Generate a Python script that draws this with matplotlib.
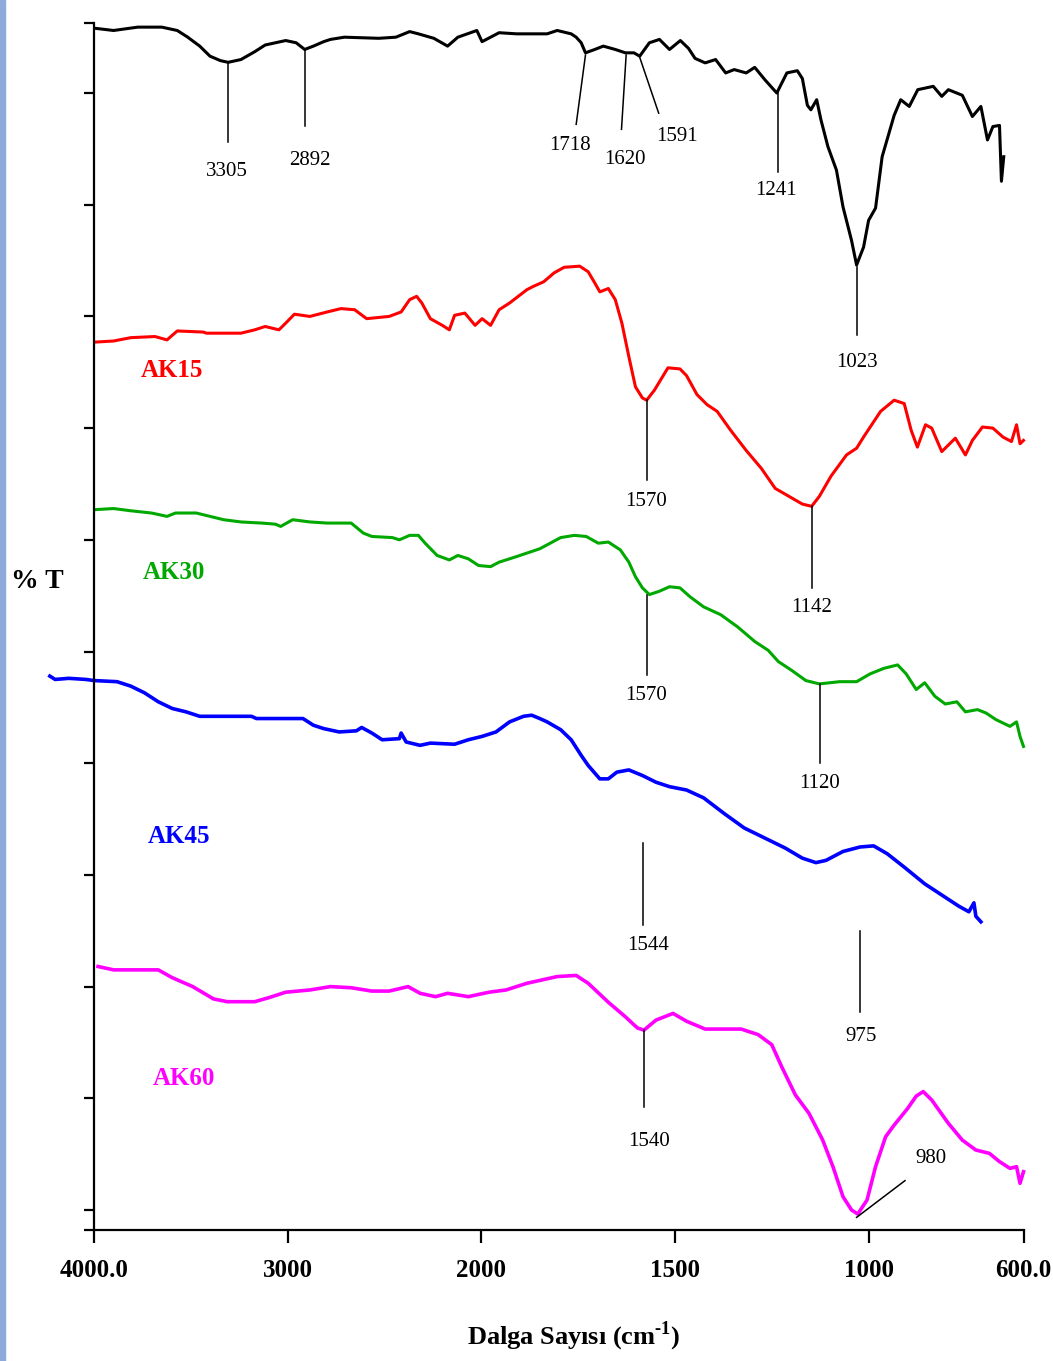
import numpy as np
import matplotlib.pyplot as plt
from matplotlib.patches import Rectangle

plt.rcParams['font.family'] = ['Liberation Serif', 'DejaVu Serif']
plt.rcParams['mathtext.fontset'] = 'custom'
plt.rcParams['mathtext.rm'] = 'Liberation Serif'
plt.rcParams['mathtext.bf'] = 'Liberation Serif:bold'

# spectra (wavenumber cm-1, offset %T)
wn_black = [3996, 3899, 3774, 3650, 3570, 3516, 3454, 3401, 3347, 3307, 3241, 3170, 3116, 3063,
            3010, 2956, 2912, 2867, 2814, 2779, 2707, 2530, 2441, 2370, 2325, 2245, 2174, 2121,
            2023, 1998, 1954, 1909, 1870, 1830, 1804, 1768, 1755, 1742, 1731, 1707, 1685, 1654,
            1628, 1606, 1591, 1566, 1540, 1514, 1486, 1465, 1448, 1422, 1395, 1369, 1347, 1316,
            1294, 1268, 1237, 1211, 1184, 1171, 1158, 1149, 1134, 1123, 1105, 1083, 1066, 1044,
            1031, 1013, 1000, 982, 965, 934, 917, 895, 873, 833, 811, 794, 758, 732, 710, 693,
            679, 662, 657, 651]
t_black = [105.8, 105.6, 105.9, 105.9, 105.6, 105.0, 104.2, 103.3, 102.9, 102.75, 103.0, 103.7,
           104.3, 104.5, 104.7, 104.5, 103.9, 104.2, 104.6, 104.8, 105.0, 104.9, 105.0, 105.5,
           105.3, 104.9, 104.2, 105.0, 105.6, 104.6, 105.4, 105.3, 105.3, 105.3, 105.6, 105.3,
           105.0, 104.5, 103.6, 103.9, 104.2, 103.9, 103.6, 103.6, 103.3, 104.5, 104.8, 103.9,
           104.7, 104.0, 103.1, 102.7, 103.0, 101.8, 102.1, 101.8, 102.3, 101.2, 100.0, 101.8,
           102.0, 101.3, 98.9, 98.5, 99.4, 97.6, 95.2, 93.1, 89.8, 86.8, 84.6, 86.2, 88.6, 89.7,
           94.3, 98.0, 99.4, 98.8, 100.3, 100.6, 99.7, 100.3, 99.8, 97.9, 98.8, 95.8, 97.0, 97.1,
           92.1, 94.3]

wn_ak15 = [3996, 3899, 3810, 3685, 3623, 3570, 3436, 3419, 3241, 3170, 3116, 3045, 3010, 2965,
           2885, 2796, 2725, 2654, 2592, 2476, 2414, 2370, 2334, 2307, 2263, 2201, 2165, 2138,
           2085, 2032, 1998, 1976, 1954, 1927, 1882, 1865, 1839, 1812, 1786, 1746, 1724, 1707,
           1694, 1672, 1654, 1637, 1619, 1602, 1584, 1573, 1553, 1518, 1487, 1470, 1443, 1417,
           1391, 1356, 1316, 1277, 1241, 1206, 1171, 1147, 1127, 1097, 1057, 1031, 1013, 969,
           934, 908, 890, 874, 853, 837, 811, 776, 750, 732, 706, 679, 653, 631, 618, 609, 600]
t_ak15 = [77.7, 77.8, 78.1, 78.2, 77.9, 78.7, 78.6, 78.5, 78.5, 78.8, 79.1, 78.8, 79.4, 80.2,
          80.0, 80.4, 80.7, 80.6, 79.8, 80.0, 80.4, 81.5, 81.8, 81.2, 79.8, 79.2, 78.8, 80.1,
          80.3, 79.2, 79.8, 79.2, 80.6, 81.2, 82.4, 82.7, 83.1, 83.9, 84.4, 84.5, 84.0, 83.0,
          82.2, 82.5, 81.5, 79.4, 76.4, 73.7, 72.7, 72.5, 73.4, 75.4, 75.3, 74.7, 73.0, 72.1,
          71.5, 69.8, 68.0, 66.4, 64.6, 63.9, 63.2, 63.0, 63.9, 65.7, 67.6, 68.2, 69.2, 71.5,
          72.5, 72.2, 69.8, 68.3, 70.3, 70.0, 67.9, 69.1, 67.6, 68.9, 70.1, 70.0, 69.2, 68.8,
          70.3, 68.6, 68.9]

wn_ak30 = [3996, 3899, 3810, 3703, 3623, 3579, 3472, 3401, 3330, 3241, 3134, 3063, 3036, 2974,
           2885, 2796, 2672, 2609, 2565, 2459, 2423, 2370, 2325, 2290, 2228, 2165, 2121, 2067,
           2014, 1976, 1954, 1909, 1849, 1795, 1760, 1729, 1698, 1672, 1641, 1619, 1602, 1584,
           1566, 1540, 1514, 1487, 1461, 1426, 1382, 1338, 1294, 1259, 1233, 1198, 1162, 1127,
           1075, 1031, 996, 960, 925, 903, 877, 855, 829, 802, 772, 750, 719, 697, 671, 635,
           618, 609, 600]
t_ak30 = [62.7, 62.8, 62.6, 62.4, 62.1, 62.4, 62.4, 62.1, 61.8, 61.6, 61.5, 61.4, 61.2, 61.8,
          61.6, 61.5, 61.5, 60.6, 60.3, 60.2, 60.0, 60.4, 60.4, 59.7, 58.6, 58.2, 58.6, 58.3,
          57.7, 57.6, 58.0, 58.5, 59.2, 60.2, 60.4, 60.3, 59.7, 59.8, 59.1, 58.0, 56.7, 55.7,
          55.1, 55.4, 55.8, 55.7, 54.9, 54.0, 53.3, 52.2, 50.9, 50.1, 49.1, 48.3, 47.4, 47.1,
          47.3, 47.3, 48.0, 48.5, 48.8, 48.0, 46.6, 47.2, 46.0, 45.3, 45.5, 44.6, 44.8, 44.5,
          43.9, 43.3, 43.7, 42.4, 41.5]

wn_ak45 = [4228, 4201, 4130, 4041, 4000, 3881, 3810, 3739, 3668, 3596, 3525, 3454, 3187, 3161,
           2921, 2867, 2814, 2734, 2645, 2618, 2565, 2512, 2423, 2414, 2388, 2316, 2263, 2138,
           2067, 1998, 1962, 1927, 1891, 1870, 1849, 1830, 1795, 1768, 1742, 1724, 1694, 1672,
           1650, 1619, 1584, 1549, 1514, 1470, 1426, 1373, 1321, 1268, 1215, 1171, 1136, 1110,
           1066, 1022, 987, 952, 908, 855, 811, 767, 741, 728, 723, 710]
t_ak45 = [47.8, 47.5, 47.6, 47.5, 47.4, 47.3, 46.9, 46.3, 45.5, 44.9, 44.6, 44.2, 44.2, 44.0,
          44.0, 43.4, 43.1, 42.8, 42.9, 43.2, 42.7, 42.1, 42.2, 42.7, 41.9, 41.6, 41.8, 41.7,
          42.1, 42.4, 42.8, 43.7, 44.2, 44.3, 44.0, 43.7, 43.0, 42.1, 40.7, 39.8, 38.6, 38.6,
          39.2, 39.4, 38.9, 38.3, 37.9, 37.6, 36.9, 35.5, 34.2, 33.3, 32.4, 31.5, 31.1, 31.3,
          32.1, 32.5, 32.6, 31.9, 30.7, 29.2, 28.2, 27.2, 26.7, 27.5, 26.3, 25.8]

wn_ak60 = [3979, 3899, 3668, 3596, 3490, 3383, 3312, 3170, 3099, 3010, 2885, 2779, 2672, 2565,
           2476, 2378, 2316, 2236, 2174, 2067, 1980, 1936, 1882, 1856, 1804, 1755, 1724, 1672,
           1628, 1597, 1580, 1549, 1505, 1470, 1422, 1329, 1285, 1250, 1224, 1189, 1154, 1119,
           1092, 1066, 1044, 1028, 1004, 982, 956, 934, 899, 877, 859, 837, 794, 758, 723, 688,
           662, 635, 618, 609, 600]
t_ak60 = [21.8, 21.5, 21.5, 20.8, 20.0, 18.9, 18.65, 18.65, 19.0, 19.5, 19.7, 20.0, 19.9, 19.6,
          19.6, 20.0, 19.4, 19.1, 19.4, 19.1, 19.5, 19.7, 20.3, 20.5, 20.9, 21.0, 20.3, 18.6,
          17.3, 16.3, 16.1, 17.0, 17.6, 16.9, 16.2, 16.2, 15.7, 14.8, 12.8, 10.3, 8.66, 6.3,
          3.88, 1.19, 0.0, -0.36, 0.89, 3.88, 6.56, 7.6, 9.1, 10.2, 10.6, 9.85, 7.76, 6.26,
          5.37, 5.07, 4.33, 3.73, 3.88, 2.39, 3.43]

sample_names = ['AK15', 'AK30', 'AK45', 'AK60']
sample_colors = ['#ff0000', '#00a800', '#0000ff', '#ff00ff']

x_ticks = [4000, 3000, 2000, 1500, 1000, 600]
x_tick_labels = ['4000.0', '3000', '2000', '1500', '1000', '600.0']

# peak marks: label, line start (x, y), line end (x, y), text (x, y)
peak_marks = [
    ('3305', 3307, 102.75, 3307, 95.65, 3316, 92.96),
    ('2892', 2912, 103.9, 2912, 97.05, 2885, 94.0),
    ('1718', 1731, 103.4, 1755, 97.2, 1771, 95.3),
    ('1620', 1626, 103.4, 1638, 96.75, 1628, 94.07),
    ('1591', 1591, 103.2, 1542, 98.2, 1494, 96.1),
    ('1241', 1235, 100.0, 1235, 92.9, 1240, 91.3),
    ('1023', 1031, 84.4, 1031, 78.3, 1031, 75.9),
    ('1570', 1573, 72.5, 1573, 65.35, 1575, 63.4),
    ('1142', 1147, 63.0, 1147, 55.65, 1147, 53.9),
    ('1570', 1573, 55.1, 1573, 47.9, 1575, 46.1),
    ('1120', 1126, 47.1, 1126, 40.0, 1127, 38.2),
    ('1544', 1582, 32.83, 1582, 25.52, 1568, 23.7),
    ('975', 1022, 24.98, 1022, 17.7, 1019, 15.5),
    ('1540', 1580, 16.1, 1580, 9.25, 1568, 6.12),
    ('980', 1031, -0.66, 906, 2.63, 838, 4.6),
]
name_pos = [(3595, 75.2), (3586, 57.1), (3561, 33.4), (3534, 11.8)]


# wavenumber axis is compressed 2x above 2000 cm-1
def fwd(w):
    w = np.asarray(w, dtype=float)
    return np.where(w >= 2000, w, 2 * w - 2000)


def inv(t):
    t = np.asarray(t, dtype=float)
    return np.where(t >= 2000, t, (t + 2000) / 2)


W, H = 1053, 1361
fig = plt.figure(figsize=(W / 100, H / 100), dpi=100)
fig.patches.append(Rectangle((0, 0), 5 / W, 1, transform=fig.transFigure,
                             color='#8eaadb', zorder=0))
ax = fig.add_axes([94 / W, 131 / H, 929.5 / W, 1207 / H])
ax.set_xscale('function', functions=(fwd, inv))
ax.set_xlim(4000, 600)
ax.set_ylim(-1.79, 106.27)

ax.plot(wn_black, t_black, color='black', lw=2.2, clip_on=False, solid_joinstyle='round')
series = [(wn_ak15, t_ak15), (wn_ak30, t_ak30), (wn_ak45, t_ak45), (wn_ak60, t_ak60)]
for (wn, tt), c in zip(series, sample_colors):
    lw = 2.6 if c in ('#0000ff', '#ff00ff') else 2.2
    ax.plot(wn, tt, color=c, lw=lw, clip_on=False, solid_joinstyle='round')

for name, c, (px, py) in zip(sample_names, sample_colors, name_pos):
    ax.text(px, py, name, color=c, fontsize=18, fontweight='bold', ha='center', va='center')

for lab, x1, y1, x2, y2, xt, yt in peak_marks:
    ax.plot([x1, x2], [y1, y2], color='black', lw=1.1, clip_on=False)
    ax.text(xt, yt, lab, fontsize=15, ha='center', va='center')

for s in ['top', 'right']:
    ax.spines[s].set_visible(False)
for s in ['left', 'bottom']:
    ax.spines[s].set_linewidth(1.6)

ax.set_xticks(x_ticks)
ax.set_xticklabels(x_tick_labels, fontsize=18, fontweight='bold')
ax.set_yticks([-1.79] + list(range(0, 101, 10)) + [106.27])
ax.tick_params(axis='y', direction='out', length=7, width=1.6, labelleft=False)
ax.tick_params(axis='x', direction='out', length=9, width=1.6, pad=12)
ax.minorticks_off()

fig.text(37 / W, 1 - 582 / H, '% T', fontsize=20, fontweight='bold', ha='center', va='center')
fig.text(574 / W, 1 - 1336 / H, 'Dalga Sayısı (cm$^{\\mathbf{\u2010 1}}$)', fontsize=19,
         fontweight='bold', ha='center', va='center')

fig.savefig('out.png', dpi=100)
